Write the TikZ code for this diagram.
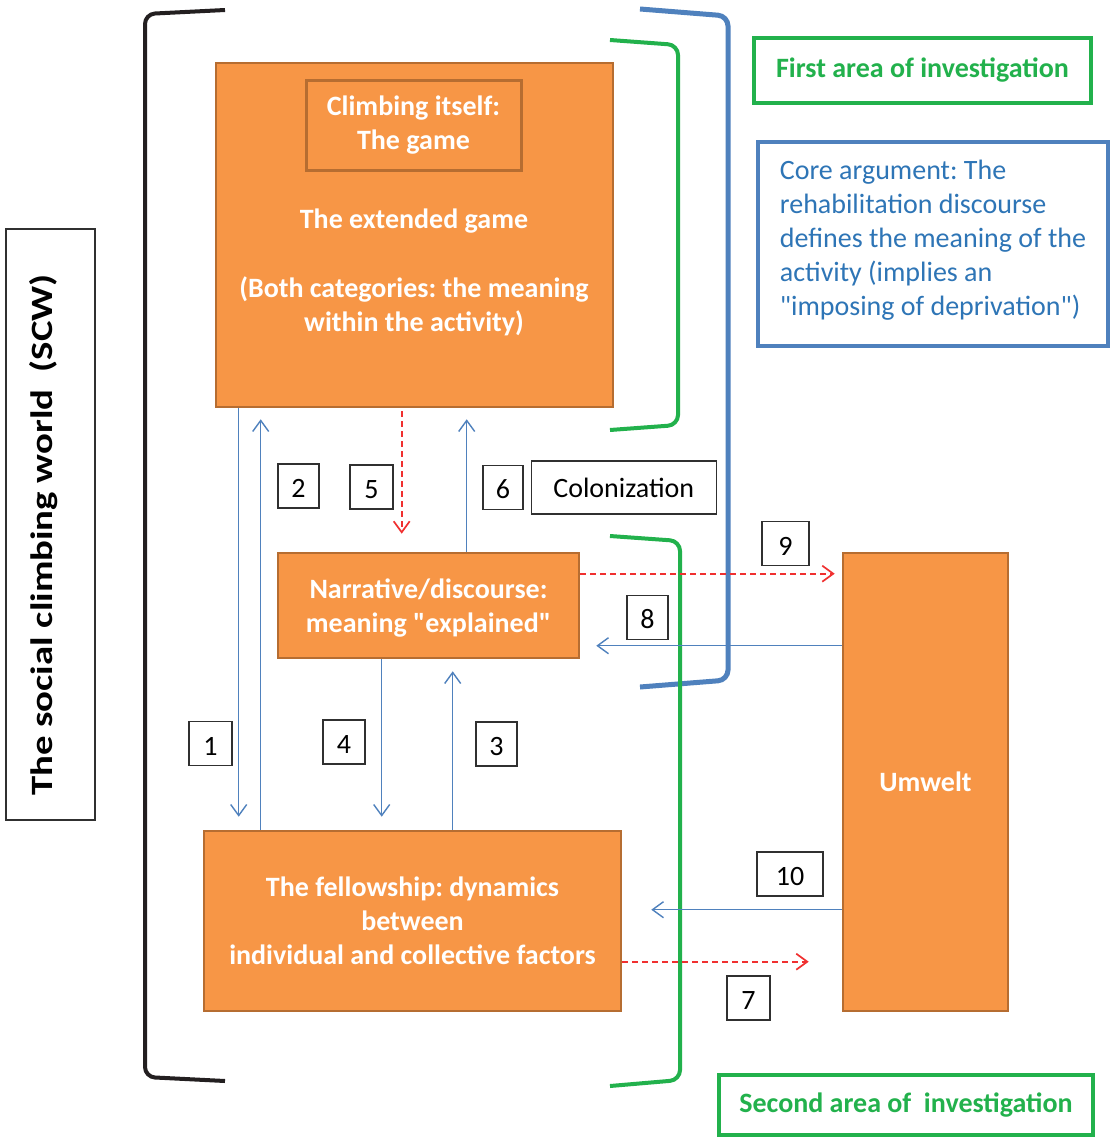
\documentclass[tikz,border=0pt]{standalone}
\usepackage{fontspec}
\setmainfont{Carlito}[Ligatures=TeXOff]
\frenchspacing
\usepackage{tikz}
\usetikzlibrary{arrows.meta,positioning}
\usepackage{xcolor}
\definecolor{orangefill}{HTML}{F79646}
\definecolor{orangeedge}{HTML}{B66D31}
\definecolor{areagreen}{HTML}{22B14C}
\definecolor{coreblue}{HTML}{4F81BD}
\definecolor{coretext}{HTML}{2E75B6}
\definecolor{arrowred}{HTML}{F03030}
\definecolor{boxgray}{HTML}{303030}
\definecolor{bracketblack}{HTML}{231F20}
\tikzset{
  orangebox/.style={draw=orangeedge,fill=orangefill,line width=2.6pt,text=white,align=center,
    inner sep=0pt,font=\bfseries\fontsize{28}{34}\selectfont},
  gametext/.style={text=white,align=center,inner sep=0pt,font=\bfseries\fontsize{28}{34}\selectfont},
  numbox/.style={draw=boxgray,line width=1.3pt,inner sep=0pt,minimum height=44pt,text height=23pt,
    font=\fontsize{28}{34}\selectfont},
  areabox/.style={draw=areagreen,line width=4pt,text=areagreen,inner sep=0pt,
    font=\bfseries\fontsize{28}{34}\selectfont},
  corebox/.style={draw=coreblue,line width=3.5pt,text=coretext,align=left,inner sep=0pt,
    font=\fontsize{28}{34}\selectfont},
  linkarrow/.style={-{Straight Barb[length=11pt,width=16pt]},draw=coreblue,line width=1.4pt},
  dasharrow/.style={-{Straight Barb[length=11pt,width=16pt]},draw=arrowred,line width=1.7pt,
    dash pattern=on 6pt off 4pt},
  bracket/.style={line width=4pt,rounded corners=10pt}
}
\begin{document}
\begin{tikzpicture}[x=1pt,y=-1pt,node distance=7pt]
  \fill[white] (0,0) rectangle (1115,1137);
  \useasboundingbox (0,0) rectangle (1115,1137);
  \draw[bracket,draw=bracketblack] (225,10) -- (145,14) -- (145,1077) -- (225,1081);
  \draw[bracket,draw=areagreen] (610,40) -- (678,45) -- (678,425) -- (610,430);
  \draw[bracket,draw=coreblue,line width=5pt] (640,9) -- (728,16) -- (728,680) -- (640,687);
  \draw[bracket,draw=areagreen] (610,536) -- (680,541) -- (680,1080) -- (610,1086);

  \node[orangebox,minimum width=397,minimum height=344] (game) at (414.5,235) {};
  \node[orangebox,minimum width=215,minimum height=89,line width=3pt] (itself) at (413.5,125.5) {Climbing itself:\\The game};
  \node[gametext] (extended) at (414,221) {The extended game};
  \node[gametext] (both) at (414,306) {(Both categories: the meaning\\within the activity)};
  \node[orangebox,minimum width=301,minimum height=105,text depth=0pt] (narr) at (428.5,605.5) {Narrative/discourse:\\meaning "explained"};
  \node[orangebox,minimum width=417,minimum height=180] (fellow) at (412.5,921) {The fellowship: dynamics\\between\\individual and collective factors};
  \node[orangebox,minimum width=165,minimum height=458] (umwelt) at (925.5,782) {Umwelt};

  \node[areabox,minimum width=337,minimum height=65] (first) at (922.5,70.5) {First area of investigation};
  \node[areabox,minimum width=374,minimum height=60] (second) at (906,1105) {Second area of\ \ investigation};
  \node[corebox,minimum width=350,minimum height=204,text depth=13pt] (core) at (933,244) {Core argument: The\\rehabilitation discourse\\defines the meaning of the\\activity (implies an\\"imposing of deprivation")};
  \node[draw=boxgray,line width=1.2pt,minimum width=89,minimum height=591] (scw) at (50.5,524.5) {};
  \node[rotate=90,inner sep=0pt,font=\bfseries\fontsize{31}{36}\selectfont] (scwtext) at (44,535)
    {\scalebox{1.25}[1]{The social climbing world\ \ (SCW)}};

  \foreach \n/\x/\y/\w in {1/210.5/743.5/43,2/298.5/486/41,3/496.5/744/41,4/344/742/42,5/371.5/487/43,
    6/503/487.5/40,7/748.5/998/43,8/647.5/617.5/41,9/785.5/543.5/47,10/790/874/66}
    \node[numbox,minimum width=\w] (n\n) at (\x,\y) {\n};
  \node[numbox,right=of n6,minimum width=185,minimum height=53,text height=20pt] (colon) {Colonization};

  \draw[linkarrow,shorten >=13pt] ([xshift=24pt]game.south west) -- ([xshift=36pt]fellow.north west);
  \draw[linkarrow,shorten >=11pt] ([xshift=58pt]fellow.north west) -- ([xshift=46pt]game.south west);
  \draw[dasharrow,shorten <=3pt,shorten >=18pt] ([xshift=187pt]game.south west) -- ([xshift=125pt]narr.north west);
  \draw[linkarrow,shorten >=11pt] ([xshift=190pt]narr.north west) -- ([xshift=252pt]game.south west);
  \draw[linkarrow,shorten >=13pt] ([xshift=105pt]narr.south west) -- ([xshift=179pt]fellow.north west);
  \draw[linkarrow,shorten >=12pt] ([xshift=250pt]fellow.north west) -- ([xshift=176pt]narr.south west);
  \draw[dasharrow,shorten >=7pt] ([yshift=-22pt]narr.north east) -- ([yshift=-22pt]umwelt.north west);
  \draw[linkarrow,shorten >=16pt] ([yshift=-94pt]umwelt.north west) -- ([yshift=-94pt]narr.north east);
  \draw[linkarrow,shorten >=29pt] ([yshift=-358pt]umwelt.north west) -- ([yshift=-80pt]fellow.north east);
  \draw[dasharrow,shorten >=33pt] ([yshift=-132pt]fellow.north east) -- ([yshift=-410pt]umwelt.north west);
\end{tikzpicture}
\end{document}
